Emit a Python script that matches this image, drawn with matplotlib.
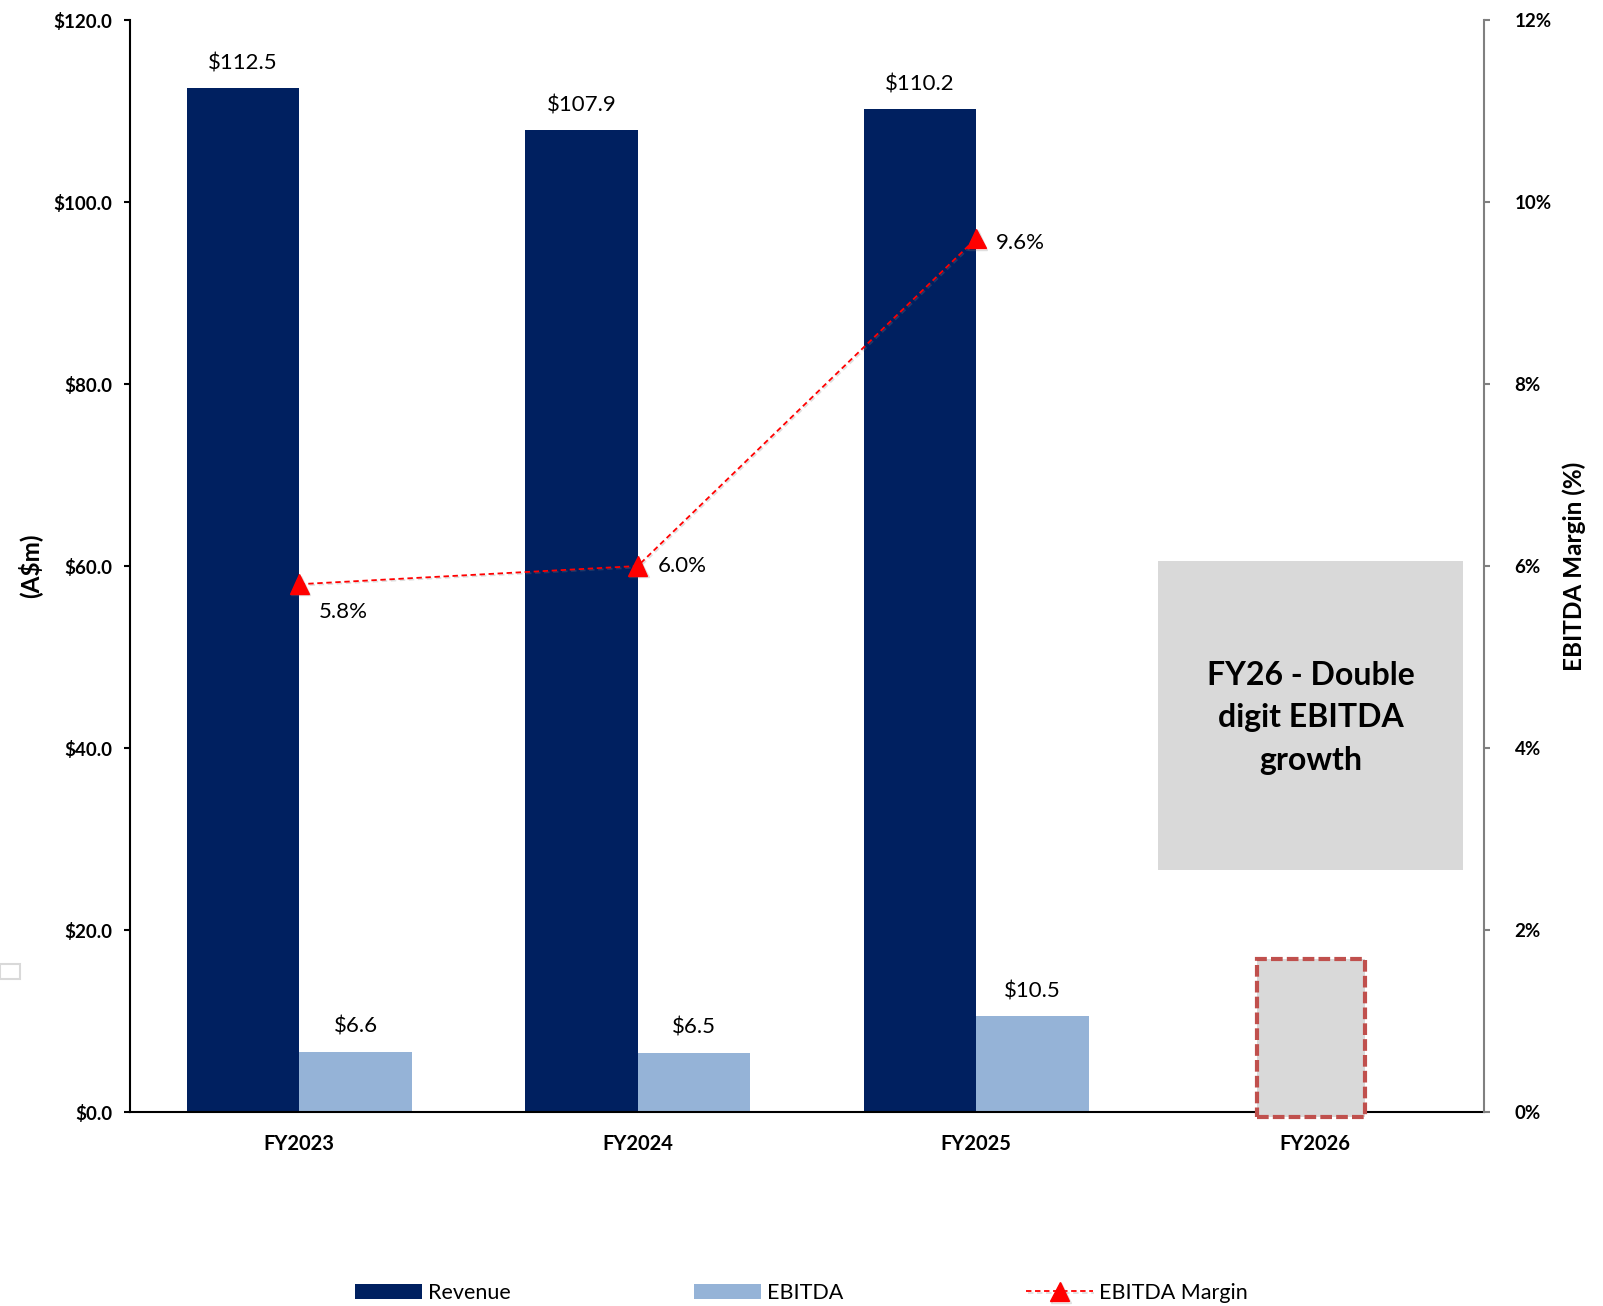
import matplotlib
matplotlib.use('Agg')
import matplotlib.pyplot as plt
import matplotlib.patheffects as pe
from matplotlib.patches import Rectangle
from matplotlib.ticker import FuncFormatter, PercentFormatter
import numpy as np

plt.rcParams['font.family'] = ['Lato', 'DejaVu Sans']

# Data
years = ['FY2023', 'FY2024', 'FY2025', 'FY2026']
revenue = [112.5, 107.9, 110.2]
ebitda = [6.6, 6.5, 10.5]
margin = [0.058, 0.060, 0.096]
fy26_placeholder = 16.8  # dashed "to come" box height
note_text = 'FY26 - Double\ndigit EBITDA\ngrowth'

NAVY = '#002060'
LIGHT = '#95B3D7'
RED = '#FF0000'

fig = plt.figure(figsize=(16.03, 13.06), dpi=100)
ax = fig.add_axes([130 / 1603, 1 - 1112 / 1306, (1484 - 130) / 1603, (1112 - 20) / 1306])
ax2 = ax.twinx()

x = np.arange(len(years))
w = 0.333
n = len(revenue)

# Bars
b1 = ax.bar(x[:n] - w / 2, revenue, width=w, color=NAVY, label='Revenue', zorder=2)
b2 = ax.bar(x[:n] + w / 2, ebitda, width=w, color=LIGHT, label='EBITDA', zorder=2)

# FY26 placeholder box
ax.bar(x[n] - 0.012, fy26_placeholder + 0.6, bottom=-0.6, width=0.32, color='#D9D9D9',
       edgecolor='#C0504D', linewidth=3, linestyle=(0, (2.8, 1)), clip_on=False, zorder=3)

for xi, v in zip(x[:n] - w / 2, revenue):
    ax.annotate(f'${v:.1f}', (xi, v), xytext=(0, 18), textcoords='offset points',
                ha='center', va='center', fontsize=16)
for xi, v in zip(x[:n] + w / 2, ebitda):
    ax.annotate(f'${v:.1f}', (xi, v), xytext=(0, 18), textcoords='offset points',
                ha='center', va='center', fontsize=16)

ax.set_xlim(-0.5, 3.5)
ax.set_ylim(0, 120)
ax.set_yticks(np.arange(0, 121, 20))
ax.yaxis.set_major_formatter(FuncFormatter(lambda v, p: f'${v:.1f}'))
ax.set_xticks(x)
ax.set_xticklabels(years, fontweight='bold')
ax.tick_params(axis='x', length=0, labelsize=14.5, pad=16)
ax.tick_params(axis='y', direction='out', length=4, width=1.5, labelsize=13.5, pad=9)
for lab in ax.get_yticklabels():
    lab.set_fontweight('bold')
ax.spines['top'].set_visible(False)
ax.spines['right'].set_visible(False)
ax.spines['left'].set_linewidth(1.5)
ax.spines['bottom'].set_linewidth(1.5)
ax.set_ylabel('(A$m)', fontsize=17.5, fontweight='bold', labelpad=0)
ax.yaxis.set_label_coords(-0.065, 0.5)

# Margin line on the right axis
line, = ax2.plot(x[:n], margin, color=RED, linestyle=(0, (3, 2)), linewidth=1.3,
                 marker='^', markersize=14, markerfacecolor=RED, markeredgecolor=RED,
                 label='EBITDA Margin', zorder=4,
                 path_effects=[pe.SimpleLineShadow(offset=(1, -1), shadow_color='gray', alpha=0.25),
                               pe.Normal()])
offsets = [(32, -20), (32, 0), (32, -3)]
for xi, m, off in zip(x[:n], margin, offsets):
    ax2.annotate(f'{m * 100:.1f}%', (xi, m), xytext=off, textcoords='offset points',
                 ha='center', va='center', fontsize=16)

ax2.set_ylim(0, 0.12)
ax2.set_yticks(np.arange(0, 0.121, 0.02))
ax2.yaxis.set_major_formatter(PercentFormatter(1.0, decimals=0))
ax2.tick_params(axis='y', direction='out', length=4, width=1.5, color='#808080',
                labelsize=13.5, pad=18)
for lab in ax2.get_yticklabels():
    lab.set_fontweight('bold')
for s in ['top', 'left', 'bottom']:
    ax2.spines[s].set_visible(False)
ax2.spines['right'].set_color('#808080')
ax2.spines['right'].set_linewidth(1.5)
ax2.set_ylabel('EBITDA Margin (%)', fontsize=17.5, fontweight='bold', rotation=90)
ax2.yaxis.set_label_coords(1.0576, 0.5)

# Note box
fig.add_artist(Rectangle((1158 / 1603, 1 - 870 / 1306), (1463 - 1158) / 1603, (870 - 561) / 1306,
                         transform=fig.transFigure, facecolor='#D9D9D9', edgecolor='none'))
fig.text(1311 / 1603, 1 - 718 / 1306, note_text, ha='center', va='center',
         fontsize=23, fontweight='bold', linespacing=1.56)

# stray outline at left edge
fig.add_artist(Rectangle((0, 1 - 979 / 1306), 20 / 1603, 15 / 1306, transform=fig.transFigure,
                         facecolor='none', edgecolor='#D9D9D9', linewidth=1.5))

fig.legend(handles=[b1, b2, line], loc='center', bbox_to_anchor=(0.5, 0.01), ncol=3,
           frameon=False, fontsize=15.5, handlelength=3.1, handleheight=0.7,
           columnspacing=8.5, handletextpad=0.3)

fig.savefig('out.png', dpi=100)
